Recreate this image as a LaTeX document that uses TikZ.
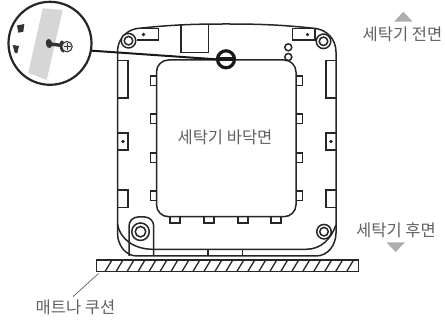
\documentclass[tikz,border=0pt]{standalone}
\usepackage{fontspec}
\setmainfont{Noto Sans CJK KR}
\definecolor{labelgray}{gray}{0.38}
\definecolor{arrowgray}{gray}{0.68}
\definecolor{stripgray}{gray}{0.84}
\tikzset{
  part/.style={draw=black!85, line width=1.5pt},
  label/.style={text=labelgray, font=\fontsize{16.5}{17}\selectfont, inner sep=0pt},
  tab/.style={draw=black!85, line width=1.4pt},
  post/.style={circle, draw=black!85, line width=1.5pt, fill=white, inner sep=0pt},
}
\begin{document}
\begin{tikzpicture}[x=1pt, y=-1pt]
\useasboundingbox (0,0) rectangle (445,320);

\draw[part]
(117.5,52) to[out=90, in=190]
(137,28.5) to[out=6, in=180]
(226,24) to[out=0, in=174]
(316,28.5) to[out=-10, in=90]
(336,52) -- (336,233) to[out=-90, in=0]
(316,256) -- (137,256) to[out=180, in=-90]
(117.5,233) -- cycle
;
\draw[part]
(117.5,224) to[out=-80, in=180]
(153,249.3) -- (306,249.3) to[out=0, in=-110]
(336,225)
;
\draw[part] (208,249.3) -- (208,256);
\draw[part] (242.7,249.3) -- (242.7,256);
\draw[part, rounded corners=9pt] (129,256) -- (129,217) -- (153.7,217) -- (153.7,256);

\draw[part, rounded corners=12pt] (156.5,60) rectangle (296,216.7);

\foreach \y in {76,114,153,191} {
  \draw[tab] (156.5,\y) -- (150.5,\y) -- (150.5,\y+9.5) -- (156.5,\y+9.5);
  \draw[tab] (296,\y) -- (302.5,\y) -- (302.5,\y+9.5) -- (296,\y+9.5);
}
\foreach \x in {170,204,238,271} {
  \draw[tab] (\x,216.7) -- (\x,223) -- (\x+10,223) -- (\x+10,216.7);
}

\foreach \y/\h in {60.5/37.5,133/17,190/17.7} {
  \draw[tab] (117.5,\y) -- (128,\y) -- (128,\y+\h) -- (117.5,\y+\h);
  \draw[tab] (336,\y) -- (326,\y) -- (326,\y+\h) -- (336,\y+\h);
}
\fill[black!85] (123,141.5) circle (1.8);
\fill[black!85] (331,141.5) circle (1.8);

\draw[tab] (137,28.5) -- (158.5,28.5) -- (158.5,40) -- (137,40);
\draw[tab] (292.7,28.5) -- (315,28.5) -- (315,40) -- (292.7,40) -- cycle;
\fill[black!85] (143.5,34.5) circle (1.8);
\fill[black!85] (307.5,34.7) circle (1.8);
\draw[tab] (181,25) -- (181,52.7) -- (208.7,52.7) -- (208.7,25);

\node[post, minimum size=14.5pt] (postfrontleft) at (128.5,40.7) {};
\node[post, minimum size=8.5pt] at (postfrontleft) {};
\node[post, minimum size=14.5pt] (postfrontright) at (323.5,41.3) {};
\node[post, minimum size=8.5pt] at (postfrontright) {};
\node[post, minimum size=17.5pt] (postrearleft) at (140.5,231.7) {};
\node[post, minimum size=10.5pt] at (postrearleft) {};
\node[post, minimum size=14.5pt] (postrearright) at (324,231.7) {};
\node[post, minimum size=8.5pt] at (postrearright) {};
\node[post, minimum size=7pt] (holeupper) at (288.3,47.3) {};
\node[post, minimum size=7pt] (holelower) at (288.3,57) {};

\node[circle, draw=black!85, line width=2.2pt, minimum size=83pt, inner sep=0pt] (inset) at (50,43.3) {};
\fill[stripgray] (42.7,8.3) -- (62.7,10) -- (46.7,80) -- (28.3,72.7) -- cycle;
\fill[black!80] (17,25.5) -- (24.3,24) -- (23.3,31.7) -- (18.3,32.7) -- cycle;
\fill[black!80] (12.7,45) -- (19,46) -- (17.3,53.3) -- (14.7,52.7) -- cycle;
\fill[black!80, rotate around={8:(49,43.5)}] (49,43.5) ellipse (3.2 and 4.6);
\draw[black!80, line width=3.4pt] (49,43.8) -- (62,45.5);
\fill[black!80, rotate around={8:(62.5,46.5)}] (62.5,46.5) ellipse (2.8 and 6.2);
\node[circle, draw=black!80, line width=1pt, fill=stripgray!50, minimum size=10.5pt, inner sep=0pt] (screwhead) at (67,46.7) {};
\draw[black!80, line width=.9pt] (63.5,46.7) -- (70.5,46.7) (67,43.2) -- (67,50.2);

\node[circle, draw=black!90, line width=3.2pt, fill=white, minimum size=17pt, inner sep=0pt] (screwhole) at (226,59.3) {};
\draw[black!90, line width=4pt] (screwhole.west) -- (screwhole.east);
\draw[black!90, line width=2pt] (inset.-10) -- (screwhole.west);

\node[minimum width=262pt, minimum height=11.7pt, inner sep=0pt, draw=black!85, line width=1.5pt] (mat) at (227.7,265.9) {};
\foreach \i in {0,...,22} {
  \draw[black!85, line width=1.3pt] ({105+\i*10.98},271.7) -- ++(7,-11.7);
}

\coordinate (matcorner) at (98.5,273.5);
\node[label] (matlabel) at (75.5,307) {매트나 쿠션};
\coordinate (leaderend) at (73,296.7);
\draw[labelgray, line width=.7pt] (matcorner) -- (leaderend);

\node[label] (frontlabel) at (402.5,34) {세탁기 전면};
\node[label] (rearlabel) at (396,230) {세탁기 후면};
\node[label] (bottomlabel) at (225,137) {세탁기 바닥면};
\fill[arrowgray] (403.3,11.7) -- (412.6,21.7) -- (394,21.7) -- cycle;
\fill[arrowgray] (395.7,252) -- (405,242.3) -- (386.4,242.3) -- cycle;

\end{tikzpicture}
\end{document}
